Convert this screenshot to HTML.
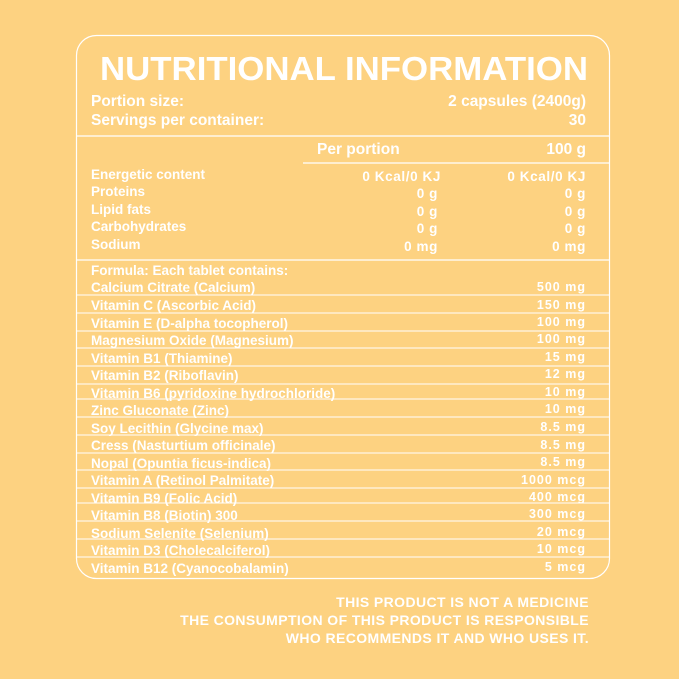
<!DOCTYPE html>
<html><head><meta charset="utf-8"><style>
html,body{margin:0;padding:0;background:#fdd281;}
svg{display:block}
text{font-family:"Liberation Sans",sans-serif;fill:#fff;font-weight:bold;}
</style></head><body>
<svg width="679" height="679" viewBox="0 0 679 679" xmlns="http://www.w3.org/2000/svg">
<rect x="0" y="0" width="679" height="679" fill="#fdd281"/>
<rect x="76.5" y="35.5" width="533" height="543" rx="20" fill="none" stroke="#fff" stroke-width="1.2"/>
<text x="100" y="80" font-size="33" textLength="488" lengthAdjust="spacingAndGlyphs">NUTRITIONAL INFORMATION</text>
<g font-size="15.5">
<text x="91" y="106">Portion size:</text>
<text x="586" y="106" text-anchor="end">2 capsules (2400g)</text>
<text x="91" y="125">Servings per container:</text>
<text x="586" y="125" text-anchor="end">30</text>
<text x="317" y="154">Per portion</text>
<text x="586" y="154" text-anchor="end">100 g</text>
</g>
<g stroke="#fff" stroke-width="1.2">
<line x1="77" y1="136" x2="609" y2="136"/>
<line x1="303" y1="163" x2="609" y2="163"/>
<line x1="77" y1="260" x2="609" y2="260"/>
</g>
<g font-size="13.5">
<text x="91" y="179">Energetic content</text>
<text x="91" y="196">Proteins</text>
<text x="91" y="214">Lipid fats</text>
<text x="91" y="231">Carbohydrates</text>
<text x="91" y="249">Sodium</text>
<g text-anchor="end" letter-spacing="0.6">
<text x="441" y="181">0 Kcal/0 KJ</text><text x="586" y="181">0 Kcal/0 KJ</text>
<text x="438" y="198">0 g</text><text x="586" y="198">0 g</text>
<text x="438" y="216">0 g</text><text x="586" y="216">0 g</text>
<text x="438" y="233">0 g</text><text x="586" y="233">0 g</text>
<text x="438" y="251">0 mg</text><text x="586" y="251">0 mg</text>
</g>
<text x="91" y="275">Formula: Each tablet contains:</text>
</g>
<g stroke="#fff" stroke-width="1">
<line x1="77" y1="295" x2="609" y2="295"/>
<line x1="77" y1="313" x2="609" y2="313"/>
<line x1="77" y1="331" x2="609" y2="331"/>
<line x1="77" y1="348" x2="609" y2="348"/>
<line x1="77" y1="366" x2="609" y2="366"/>
<line x1="77" y1="384" x2="609" y2="384"/>
<line x1="77" y1="399" x2="609" y2="399"/>
<line x1="77" y1="417" x2="609" y2="417"/>
<line x1="77" y1="435" x2="609" y2="435"/>
<line x1="77" y1="453" x2="609" y2="453"/>
<line x1="77" y1="470" x2="609" y2="470"/>
<line x1="77" y1="488" x2="609" y2="488"/>
<line x1="77" y1="503" x2="609" y2="503"/>
<line x1="77" y1="521" x2="609" y2="521"/>
<line x1="77" y1="539" x2="609" y2="539"/>
<line x1="77" y1="557" x2="609" y2="557"/>
</g>
<g font-size="13.5">
<text x="91" y="292">Calcium Citrate (Calcium)</text>
<text x="91" y="310">Vitamin C (Ascorbic Acid)</text>
<text x="91" y="328">Vitamin E (D-alpha tocopherol)</text>
<text x="91" y="345">Magnesium Oxide (Magnesium)</text>
<text x="91" y="363">Vitamin B1 (Thiamine)</text>
<text x="91" y="380">Vitamin B2 (Riboflavin)</text>
<text x="91" y="398">Vitamin B6 (pyridoxine hydrochloride)</text>
<text x="91" y="415">Zinc Gluconate (Zinc)</text>
<text x="91" y="433">Soy Lecithin (Glycine max)</text>
<text x="91" y="450">Cress (Nasturtium officinale)</text>
<text x="91" y="468">Nopal (Opuntia ficus-indica)</text>
<text x="91" y="485">Vitamin A (Retinol Palmitate)</text>
<text x="91" y="503">Vitamin B9 (Folic Acid)</text>
<text x="91" y="520">Vitamin B8 (Biotin) 300</text>
<text x="91" y="538">Sodium Selenite (Selenium)</text>
<text x="91" y="555">Vitamin D3 (Cholecalciferol)</text>
<text x="91" y="573">Vitamin B12 (Cyanocobalamin)</text>
<g text-anchor="end" font-size="12.5" letter-spacing="1">
<text x="586" y="291">500 mg</text>
<text x="586" y="309">150 mg</text>
<text x="586" y="326">100 mg</text>
<text x="586" y="343">100 mg</text>
<text x="586" y="361">15 mg</text>
<text x="586" y="378">12 mg</text>
<text x="586" y="396">10 mg</text>
<text x="586" y="413">10 mg</text>
<text x="586" y="431">8.5 mg</text>
<text x="586" y="449">8.5 mg</text>
<text x="586" y="466">8.5 mg</text>
<text x="586" y="484">1000 mcg</text>
<text x="586" y="501">400 mcg</text>
<text x="586" y="518">300 mcg</text>
<text x="586" y="536">20 mcg</text>
<text x="586" y="553">10 mcg</text>
<text x="586" y="571">5 mcg</text>
</g>
</g>
<g font-size="14" text-anchor="end" letter-spacing="0.4">
<text x="589" y="607">THIS PRODUCT IS NOT A MEDICINE</text>
<text x="589" y="625">THE CONSUMPTION OF THIS PRODUCT IS RESPONSIBLE</text>
<text x="589" y="643">WHO RECOMMENDS IT AND WHO USES IT.</text>
</g>
</svg>
</body></html>
